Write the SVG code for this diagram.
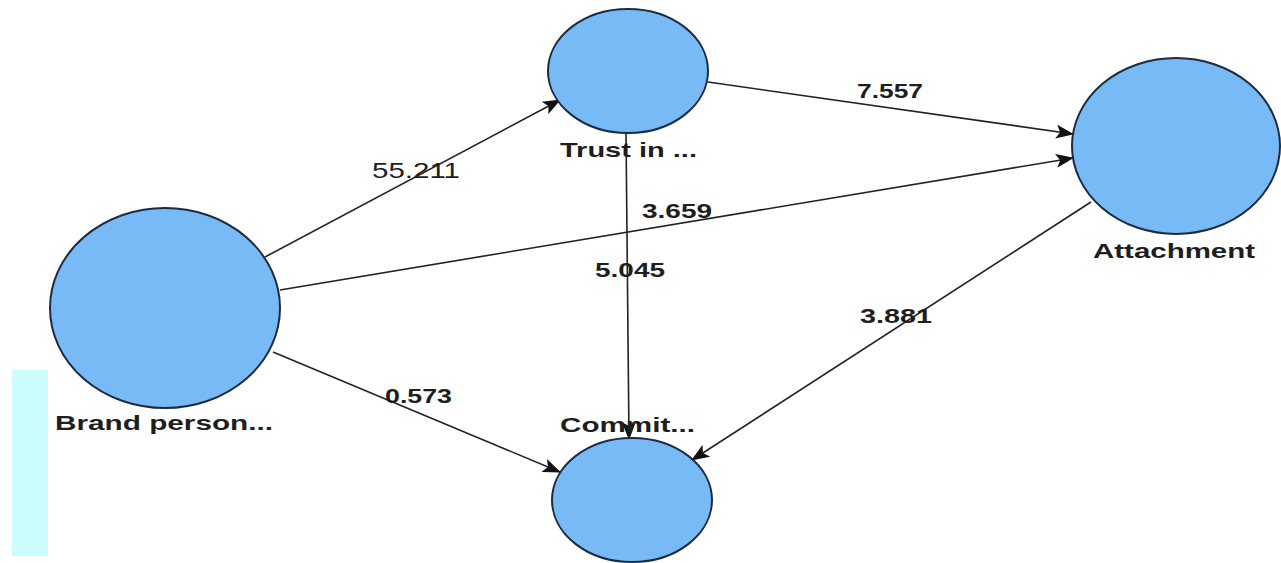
<svg xmlns="http://www.w3.org/2000/svg" width="1281" height="563" viewBox="0 0 1281 563">
<defs>
<marker id="arr" markerUnits="userSpaceOnUse" markerWidth="18" markerHeight="14" refX="17" refY="7" orient="auto">
<path d="M0,0 L18,7 L0,14 L4,7 Z" fill="#111"/>
</marker>
<style>
.node{fill:#78baf6;stroke:#1c2b3f;stroke-width:2}
.lbl{font-family:"Liberation Sans",Arial,sans-serif;font-weight:bold;font-size:21px;fill:#1e1e1e}
.el{font-family:"Liberation Sans",Arial,sans-serif;font-size:22px;fill:#1e1e1e}
.elb{font-family:"Liberation Sans",Arial,sans-serif;font-weight:bold;font-size:21px;fill:#1e1e1e}
.edge{stroke:#222;stroke-width:1.6;fill:none;marker-end:url(#arr)}
</style>
</defs>
<rect x="0" y="0" width="1281" height="563" fill="#ffffff"/>
<rect x="12" y="370" width="36" height="186" fill="#ccfdfd"/>
<g id="connectors">
<line class="edge" x1="265" y1="257" x2="560" y2="100"/>
<line class="edge" x1="280" y1="290" x2="1073" y2="158"/>
<line class="edge" x1="273" y1="352" x2="560" y2="472"/>
<line class="edge" x1="708" y1="82" x2="1073" y2="134"/>
<line class="edge" x1="626" y1="133" x2="629" y2="439"/>
<line class="edge" x1="1091" y1="202" x2="692" y2="460"/>
</g>
<g id="edge-labels">
<text class="el" x="372" y="178" textLength="88" lengthAdjust="spacingAndGlyphs">55.211</text>
<text class="elb" x="642" y="218" textLength="70" lengthAdjust="spacingAndGlyphs">3.659</text>
<text class="elb" x="595" y="277" textLength="70" lengthAdjust="spacingAndGlyphs">5.045</text>
<text class="elb" x="857" y="98" textLength="66" lengthAdjust="spacingAndGlyphs">7.557</text>
<text class="elb" x="860" y="323" textLength="72" lengthAdjust="spacingAndGlyphs">3.881</text>
<text class="elb" x="385" y="403" textLength="67" lengthAdjust="spacingAndGlyphs">0.573</text>
</g>
<g id="node-brand">
<ellipse class="node" cx="165" cy="308" rx="115" ry="100"/>
<text class="lbl" x="55" y="430" textLength="218" lengthAdjust="spacingAndGlyphs">Brand person...</text>
</g>
<g id="node-trust">
<ellipse class="node" cx="628" cy="71" rx="80" ry="62"/>
<text class="lbl" x="560" y="157" textLength="137" lengthAdjust="spacingAndGlyphs">Trust in ...</text>
</g>
<g id="node-attachment">
<ellipse class="node" cx="1176" cy="146" rx="104" ry="88"/>
<text class="lbl" x="1093" y="258" textLength="162" lengthAdjust="spacingAndGlyphs">Attachment</text>
</g>
<g id="node-commit">
<ellipse class="node" cx="632" cy="500" rx="80" ry="62"/>
<text class="lbl" x="560" y="432" textLength="135" lengthAdjust="spacingAndGlyphs">Commit...</text>
</g>
</svg>
